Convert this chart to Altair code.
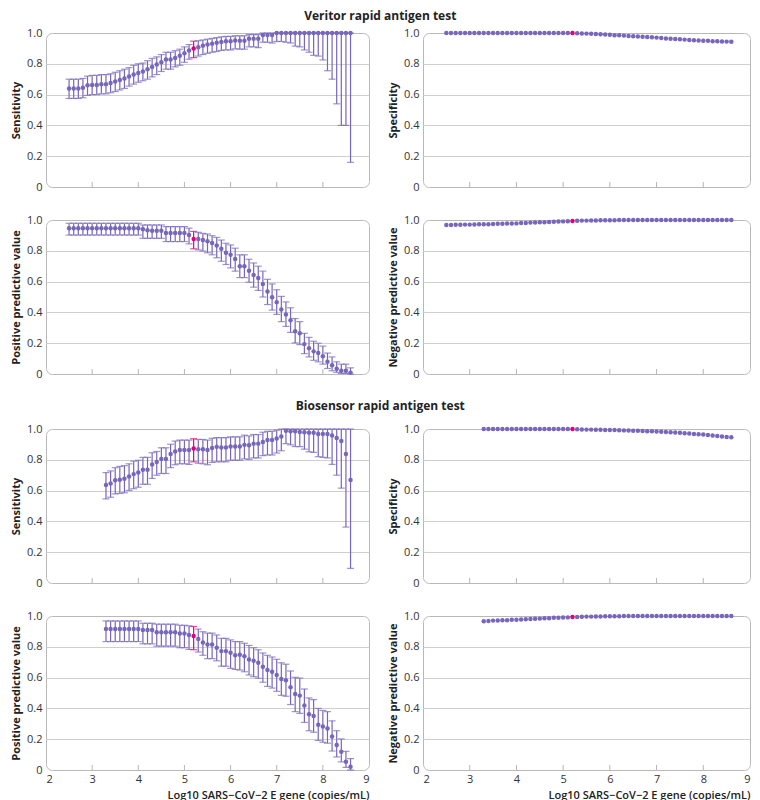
import altair as alt
import pandas as pd

# ---------------- data ----------------
veritor_x = [round(2.5 + 0.1 * i, 1) for i in range(62)]
biosensor_x = [round(3.3 + 0.1 * i, 1) for i in range(54)]
x_ticks = [3, 4, 5, 6, 7, 8]
x_labels = [2, 3, 4, 5, 6, 7, 8, 9]
highlight_x = 5.2

veritor_sens = [0.64, 0.64, 0.64, 0.645, 0.66, 0.663, 0.663, 0.668, 0.668, 0.675,
                0.685, 0.695, 0.705, 0.717, 0.73, 0.74, 0.75, 0.765, 0.78, 0.795,
                0.81, 0.828, 0.828, 0.838, 0.852, 0.868, 0.887, 0.90, 0.907, 0.918,
                0.925, 0.931, 0.936, 0.942, 0.946, 0.946, 0.952, 0.949, 0.949, 0.962,
                0.962, 0.962, 0.987, 0.987, 0.987, 1.0, 1.0, 1.0, 1.0, 1.0,
                1.0, 1.0, 1.0, 1.0, 1.0, 1.0, 1.0, 1.0, 1.0, 1.0, 1.0, 1.0]
veritor_sens_hi = [0.70, 0.70, 0.70, 0.705, 0.72, 0.725, 0.725, 0.73, 0.73, 0.735,
                   0.745, 0.755, 0.765, 0.775, 0.79, 0.80, 0.805, 0.82, 0.835, 0.845,
                   0.86, 0.875, 0.875, 0.885, 0.895, 0.91, 0.925, 0.947, 0.95, 0.955,
                   0.96, 0.965, 0.97, 0.975, 0.978, 0.978, 0.982, 0.982, 0.982, 0.99,
                   0.99, 0.99, 1.0, 1.0, 1.0, 1.0, 1.0, 1.0, 1.0, 1.0,
                   1.0, 1.0, 1.0, 1.0, 1.0, 1.0, 1.0, 1.0, 1.0, 1.0, 1.0, 1.0]
veritor_sens_lo = [0.575, 0.575, 0.575, 0.58, 0.595, 0.60, 0.60, 0.605, 0.605, 0.612,
                   0.62, 0.63, 0.64, 0.655, 0.668, 0.68, 0.69, 0.70, 0.715, 0.73,
                   0.75, 0.765, 0.765, 0.78, 0.79, 0.81, 0.83, 0.84, 0.85, 0.86,
                   0.868, 0.875, 0.88, 0.887, 0.89, 0.89, 0.897, 0.895, 0.895, 0.91,
                   0.91, 0.905, 0.94, 0.94, 0.935, 0.945, 0.945, 0.94, 0.935, 0.915,
                   0.91, 0.89, 0.875, 0.855, 0.85, 0.825, 0.755, 0.70, 0.54, 0.40,
                   0.40, 0.16]

veritor_spec = [1.0] * 28 + [0.998, 0.997, 0.996, 0.995, 0.994, 0.992, 0.99, 0.988,
                             0.986, 0.985, 0.983, 0.981, 0.979, 0.977, 0.976, 0.974,
                             0.972, 0.970, 0.968, 0.965, 0.963, 0.961, 0.959, 0.957,
                             0.955, 0.953, 0.952, 0.95, 0.949, 0.947, 0.946, 0.945,
                             0.944, 0.943]

veritor_ppv = [0.947] * 16 + [0.94, 0.934, 0.93, 0.93, 0.93, 0.915, 0.915, 0.915, 0.915,
                              0.915, 0.902, 0.877, 0.877, 0.87, 0.862, 0.85, 0.834,
                              0.813, 0.787, 0.774, 0.747, 0.70, 0.70, 0.67, 0.643,
                              0.623, 0.585, 0.536, 0.498, 0.466, 0.419, 0.387, 0.349,
                              0.277, 0.264, 0.194, 0.168, 0.147, 0.136, 0.115, 0.079,
                              0.057, 0.034, 0.021, 0.021, 0.009]
veritor_ppv_hi = [0.979] * 16 + [0.968, 0.968, 0.968, 0.968, 0.968, 0.957, 0.957, 0.957,
                                 0.957, 0.957, 0.947, 0.926, 0.92, 0.913, 0.909, 0.898,
                                 0.887, 0.87, 0.849, 0.838, 0.817, 0.774, 0.774, 0.745,
                                 0.721, 0.70, 0.668, 0.615, 0.585, 0.547, 0.504, 0.468,
                                 0.43, 0.36, 0.34, 0.264, 0.238, 0.213, 0.20, 0.181,
                                 0.136, 0.111, 0.079, 0.064, 0.064, 0.04]
veritor_ppv_lo = [0.902] * 16 + [0.881, 0.881, 0.881, 0.881, 0.881, 0.86, 0.86, 0.86,
                                 0.86, 0.86, 0.845, 0.813, 0.806, 0.798, 0.787, 0.774,
                                 0.755, 0.732, 0.711, 0.689, 0.668, 0.626, 0.626, 0.596,
                                 0.564, 0.543, 0.50, 0.451, 0.415, 0.387, 0.34, 0.309,
                                 0.27, 0.202, 0.191, 0.132, 0.111, 0.089, 0.079, 0.064,
                                 0.036, 0.021, 0.011, 0.004, 0.004, 0.0]

veritor_npv = [0.968, 0.968, 0.969, 0.969, 0.970, 0.970, 0.971, 0.972, 0.972, 0.973,
               0.974, 0.975, 0.976, 0.977, 0.977, 0.978, 0.98, 0.981, 0.983, 0.984,
               0.985, 0.986, 0.987, 0.989, 0.99, 0.991, 0.992, 0.994, 0.995, 0.996,
               0.996, 0.997, 0.997, 0.998, 0.998, 0.998, 0.999] + [1.0] * 25

bio_sens = [0.637, 0.646, 0.667, 0.671, 0.677, 0.692, 0.707, 0.717, 0.736, 0.736,
            0.77, 0.785, 0.806, 0.806, 0.837, 0.854, 0.863, 0.863, 0.863, 0.873,
            0.869, 0.869, 0.863, 0.876, 0.884, 0.88, 0.88, 0.886, 0.886, 0.886,
            0.897, 0.895, 0.905, 0.905, 0.916, 0.928, 0.928, 0.939, 0.951, 0.989,
            0.985, 0.985, 0.981, 0.979, 0.975, 0.975, 0.968, 0.968, 0.968, 0.958,
            0.941, 0.922, 0.837, 0.669]
bio_sens_hi = [0.717, 0.728, 0.749, 0.757, 0.762, 0.774, 0.791, 0.797, 0.816, 0.816,
               0.846, 0.854, 0.878, 0.878, 0.901, 0.922, 0.928, 0.928, 0.928, 0.937,
               0.932, 0.932, 0.928, 0.94, 0.944, 0.944, 0.944, 0.949, 0.949, 0.949,
               0.96, 0.955, 0.964, 0.964, 0.979, 0.985, 0.985, 0.992] + [1.0] * 16
bio_sens_lo = [0.546, 0.557, 0.578, 0.582, 0.586, 0.601, 0.612, 0.622, 0.641, 0.641,
               0.679, 0.70, 0.711, 0.711, 0.749, 0.768, 0.774, 0.774, 0.77, 0.787,
               0.778, 0.774, 0.768, 0.783, 0.787, 0.787, 0.787, 0.797, 0.797, 0.797,
               0.806, 0.802, 0.812, 0.812, 0.827, 0.831, 0.831, 0.844, 0.859, 0.905,
               0.897, 0.886, 0.886, 0.869, 0.852, 0.848, 0.82, 0.816, 0.812, 0.77,
               0.70, 0.616, 0.363, 0.095]

bio_spec = [1.0] * 20 + [0.998, 0.997, 0.996, 0.996, 0.995, 0.995, 0.994, 0.994, 0.993,
                         0.992, 0.991, 0.99, 0.989, 0.988, 0.987, 0.986, 0.985, 0.984,
                         0.982, 0.981, 0.979, 0.977, 0.975, 0.973, 0.971, 0.968, 0.966,
                         0.964, 0.961, 0.958, 0.955, 0.951, 0.948, 0.946]

bio_ppv = [0.915] * 8 + [0.909, 0.909, 0.909, 0.894, 0.894, 0.894, 0.894, 0.894, 0.887,
                         0.887, 0.877, 0.87, 0.851, 0.828, 0.815, 0.815, 0.794, 0.772,
                         0.772, 0.762, 0.745, 0.749, 0.738, 0.717, 0.709, 0.696, 0.67,
                         0.649, 0.638, 0.617, 0.591, 0.583, 0.538, 0.494, 0.483, 0.419,
                         0.362, 0.351, 0.294, 0.283, 0.27, 0.217, 0.162, 0.119, 0.053,
                         0.021]
bio_ppv_hi = [0.968] * 8 + [0.953, 0.953, 0.953, 0.947, 0.947, 0.947, 0.947, 0.947, 0.94,
                            0.94, 0.936, 0.932, 0.915, 0.898, 0.889, 0.889, 0.877, 0.855,
                            0.855, 0.845, 0.834, 0.834, 0.823, 0.809, 0.794, 0.781, 0.76,
                            0.745, 0.734, 0.719, 0.696, 0.687, 0.643, 0.602, 0.596, 0.526,
                            0.468, 0.457, 0.40, 0.387, 0.379, 0.319, 0.255, 0.202, 0.121,
                            0.074]
bio_ppv_lo = [0.834] * 8 + [0.819, 0.819, 0.819, 0.804, 0.804, 0.804, 0.804, 0.804, 0.794,
                            0.794, 0.783, 0.781, 0.766, 0.745, 0.723, 0.723, 0.709, 0.674,
                            0.674, 0.66, 0.653, 0.649, 0.638, 0.617, 0.606, 0.596, 0.57,
                            0.543, 0.532, 0.511, 0.485, 0.479, 0.425, 0.379, 0.368, 0.309,
                            0.255, 0.245, 0.192, 0.18, 0.174, 0.123, 0.085, 0.053, 0.017,
                            0.0]

bio_npv = [0.966, 0.968, 0.970, 0.971, 0.972, 0.973, 0.975, 0.976, 0.977, 0.979,
           0.98, 0.982, 0.983, 0.985, 0.986, 0.988, 0.989, 0.99, 0.991, 0.993,
           0.994, 0.995, 0.996, 0.996, 0.997, 0.997, 0.998, 0.998, 0.998, 0.999] + [1.0] * 24

# ---------------- style ----------------
PURPLE = "#6650b0"
BAR = "#7766bb"
PINK = "#e2007a"
FONT = "Open Sans"
W_LEFT, W_RIGHT, H = 323, 327, 154
X_TITLE = "Log10 SARS\u2212CoV\u22122 E gene (copies/mL)"

xscale = alt.Scale(domain=[2, 9], nice=False, zero=False)
yscale = alt.Scale(domain=[0, 1], nice=False)


def yaxis(title):
    return alt.Axis(
        values=[0, 0.2, 0.4, 0.6, 0.8, 1.0],
        labelExpr="datum.value == 0 ? '0' : format(datum.value, '.1f')",
        grid=True, gridColor="#cfcfcf", gridWidth=1,
        gridOpacity={"condition": {"test": "datum.value === 0 || datum.value === 1", "value": 0}, "value": 1},
        domain=False, ticks=False, labelPadding=4, labelFontSize=11, labelColor="#333333",
        title=title, titleFontSize=11, titleFontWeight="bold", titleColor="#222222", titlePadding=5,
    )


def xaxis(bottom):
    if bottom:
        return alt.Axis(values=x_labels, format="d", labels=True, ticks=False, domain=False,
                        grid=False, labelFontSize=11, labelColor="#333333", labelPadding=3,
                        title=X_TITLE, titleFontSize=11, titleFontWeight=600,
                        titleColor="#222222", titleAnchor="end", titlePadding=5)
    return None


def xenc(field, bottom):
    ax = xaxis(bottom)
    if ax is None:
        return alt.X(field, type="quantitative", scale=xscale, axis=None)
    return alt.X(field, type="quantitative", scale=xscale, axis=ax)


def panel(xs, ys, lo, hi, ytitle, bottom, width):
    df = pd.DataFrame({"x": xs, "y": ys,
                       "c": ["hl" if abs(v - highlight_x) < 1e-9 else "n" for v in xs]})
    cscale = alt.Scale(domain=["n", "hl"], range=[PURPLE, PINK])
    cscale_bar = alt.Scale(domain=["n", "hl"], range=[BAR, PINK])
    tdf = pd.DataFrame({"t": x_ticks})
    ticks = alt.Chart(tdf).mark_rule(color="#b5b5b5", strokeWidth=1).encode(
        x=xenc("t", bottom), y=alt.value(H - 5), y2=alt.value(H))
    layers = [ticks]
    if lo is not None:
        df["lo"] = lo
        df["hi"] = hi
        base = alt.Chart(df)
        bars = base.mark_rule(strokeWidth=1.2).encode(
            x=xenc("x", bottom),
            y=alt.Y("lo:Q", scale=yscale, axis=yaxis(ytitle)), y2="hi:Q",
            color=alt.Color("c:N", scale=cscale_bar, legend=None))
        cap_lo = base.mark_tick(orient="horizontal", size=7, thickness=1.2).encode(
            x=xenc("x", bottom), y=alt.Y("lo:Q", scale=yscale, axis=yaxis(ytitle)),
            color=alt.Color("c:N", scale=cscale_bar, legend=None))
        cap_hi = base.mark_tick(orient="horizontal", size=7, thickness=1.2).encode(
            x=xenc("x", bottom), y=alt.Y("hi:Q", scale=yscale, axis=yaxis(ytitle)),
            color=alt.Color("c:N", scale=cscale_bar, legend=None))
        layers += [bars, cap_lo, cap_hi]
    pts = alt.Chart(df).mark_circle(size=20, opacity=1).encode(
        x=xenc("x", bottom),
        y=alt.Y("y:Q", scale=yscale, axis=yaxis(ytitle)),
        color=alt.Color("c:N", scale=cscale, legend=None))
    layers.append(pts)
    return alt.layer(*layers).properties(width=width, height=H)


def section(title, offset, xs, sens, sens_lo, sens_hi, spec, ppv, ppv_lo, ppv_hi, npv, bottom):
    row1 = alt.hconcat(panel(xs, sens, sens_lo, sens_hi, "Sensitivity", False, W_LEFT),
                       panel(xs, spec, None, None, "Specificity", False, W_RIGHT), spacing=17)
    row2 = alt.hconcat(panel(xs, ppv, ppv_lo, ppv_hi, "Positive predictive value", bottom, W_LEFT),
                       panel(xs, npv, None, None, "Negative predictive value", bottom, W_RIGHT),
                       spacing=17)
    return alt.vconcat(row1, row2, spacing=20,
                       title=alt.TitleParams(title, anchor="middle", fontSize=12,
                                             fontWeight="bold", color="#222222", offset=offset))


sec1 = section("Veritor rapid antigen test", 4, veritor_x, veritor_sens, veritor_sens_lo,
               veritor_sens_hi, veritor_spec, veritor_ppv, veritor_ppv_lo, veritor_ppv_hi,
               veritor_npv, False)
sec2 = section("Biosensor rapid antigen test", 10, biosensor_x, bio_sens, bio_sens_lo,
               bio_sens_hi, bio_spec, bio_ppv, bio_ppv_lo, bio_ppv_hi, bio_npv, True)

chart = alt.vconcat(sec1, sec2, spacing=19).properties(
    padding={"left": 2, "top": 1, "right": 0, "bottom": 0}
).configure(font=FONT).configure_view(
    stroke="#b8b8b8", strokeWidth=1, cornerRadius=6
).configure_concat(spacing=18)

chart.save("out.html", embed_options={"renderer": "svg", "actions": False})
